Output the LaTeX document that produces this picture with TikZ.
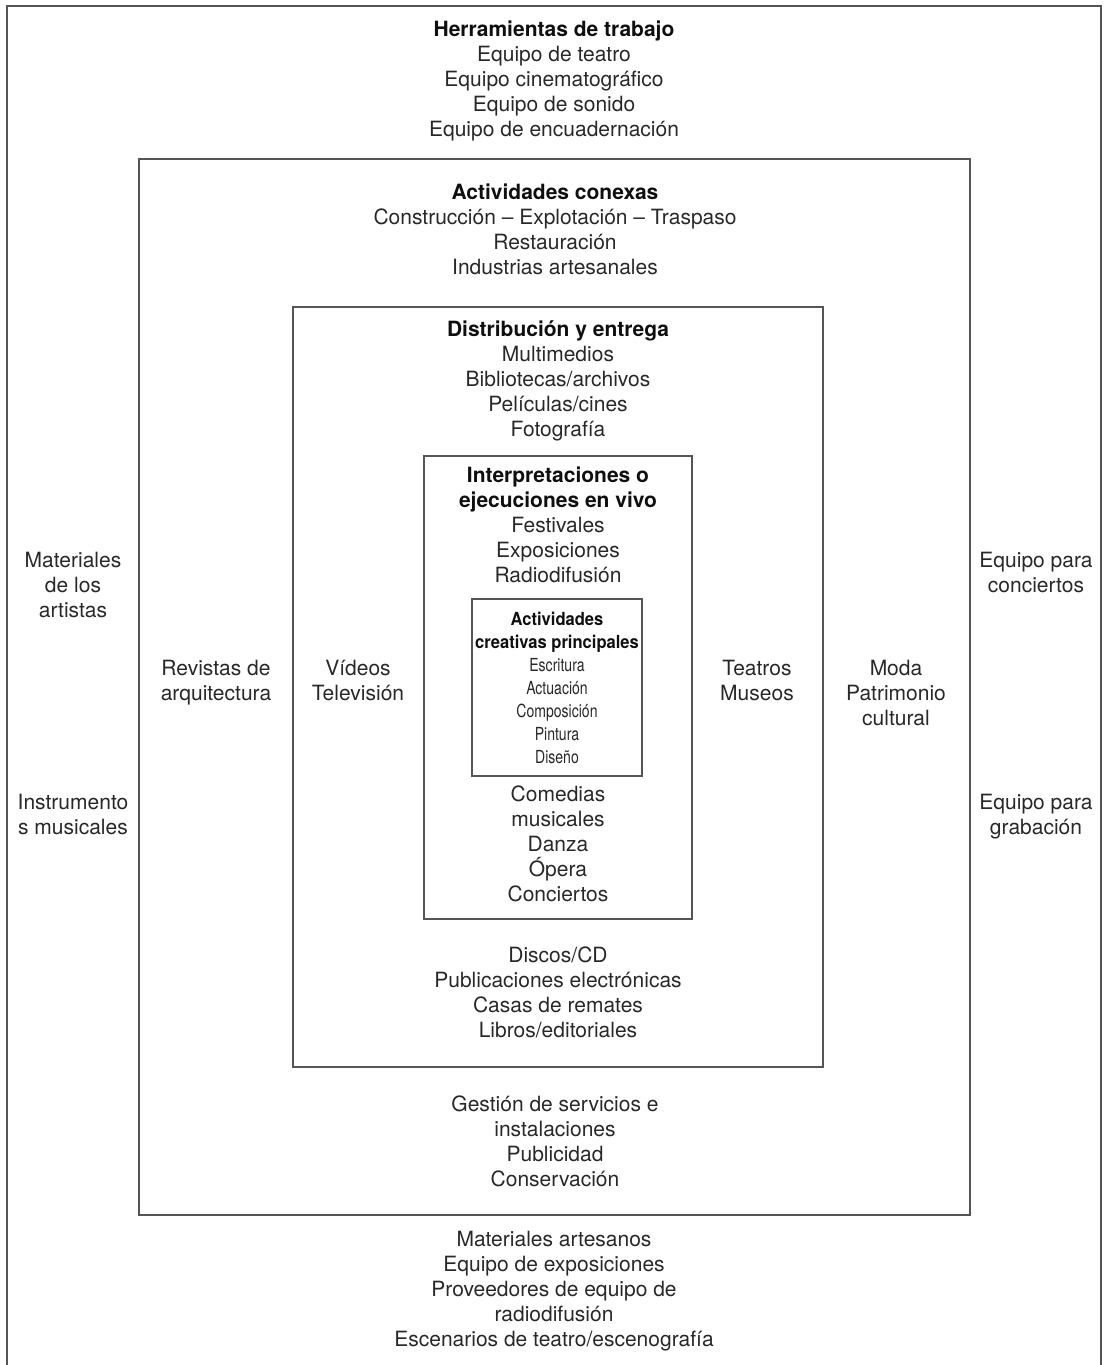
\documentclass[tikz,border=0pt]{standalone}
\usepackage{fontspec}
\setmainfont{TeX Gyre Heros}
\newfontfamily\condfont[FakeStretch=0.78]{TeX Gyre Heros}
\newfontfamily\condheadfont[FakeStretch=0.92]{TeX Gyre Heros}
\usepackage{tikz}
\usetikzlibrary{positioning}
\definecolor{framegray}{RGB}{85,85,85}
\definecolor{textgray}{RGB}{40,40,40}
\definecolor{headblack}{RGB}{15,15,15}
\newcommand{\hd}[1]{{\bfseries\color{headblack}#1}}
\newcommand{\corehd}[1]{{\condheadfont\bfseries\color{headblack}#1}}

\begin{document}
\begin{tikzpicture}[
  x=0.5pt, y=-0.5pt,
  frame/.style={draw=framegray, line width=1pt},
  txt/.style={align=center, inner sep=0pt, text=textgray, yshift=-1.3pt,
    font=\fontsize{10.5}{12.5}\selectfont,
    execute at begin node=\strut, execute at end node=\strut},
  core/.style={txt, font=\condfont\fontsize{9}{11.5}\selectfont}
]
\useasboundingbox (0,0) rectangle (1106,1365);

\draw[frame] (7,1365) |- (1101,6) -- (1101,1365);
\draw[frame] (139,159) rectangle (970,1215);
\draw[frame] (293,307) rectangle (823,1067);
\draw[frame] (424,456) rectangle (692,919);
\draw[frame] (472,599) rectangle (642,776);

\node[txt] (tools) at (554,80) {\hd{Herramientas de trabajo}\\Equipo de teatro\\Equipo cinematográfico\\Equipo de sonido\\Equipo de encuadernación};
\node[txt] (related) at (555,230.5) {\hd{Actividades conexas}\\Construcción – Explotación – Traspaso\\Restauración\\Industrias artesanales};
\node[txt] (distrib) at (558,379.5) {\hd{Distribución y entrega}\\Multimedios\\Bibliotecas/archivos\\Películas/cines\\Fotografía};
\node[txt] (live) at (558,526) {\hd{Interpretaciones o}\\\hd{ejecuciones en vivo}\\Festivales\\Exposiciones\\Radiodifusión};
\node[core] (creative) at (557,689) {\corehd{Actividades}\\\corehd{creativas principales}\\Escritura\\Actuación\\Composición\\Pintura\\Diseño};
\node[txt] (stage) at (558,845) {Comedias\\musicales\\Danza\\Ópera\\Conciertos};
\node[txt] (media) at (558,993) {Discos/CD\\Publicaciones electrónicas\\Casas de remates\\Libros/editoriales};
\node[txt] (services) at (555,1142) {Gestión de servicios e\\instalaciones\\Publicidad\\Conservación};
\node[txt] (supply) at (554,1290) {Materiales artesanos\\Equipo de exposiciones\\Proveedores de equipo de\\radiodifusión\\Escenarios de teatro/escenografía};

\node[txt] (artmat) at (73,585.5) {Materiales\\de los\\artistas};
\node[txt] (instr) at (73,815) {Instrumento\\s musicales};
\node[txt] (concert) at (1036,573.5) {Equipo para\\conciertos};
\node[txt] (record) at (1036,815) {Equipo para\\grabación};
\node[txt] (archmag) at (216,681.5) {Revistas de\\arquitectura};
\node[txt] (heritage) at (896,694) {Moda\\Patrimonio\\cultural};
\node[txt] (video) at (358,681.5) {Vídeos\\Televisión};
\node[txt] (theatre) at (757,681.5) {Teatros\\Museos};
\end{tikzpicture}
\end{document}
